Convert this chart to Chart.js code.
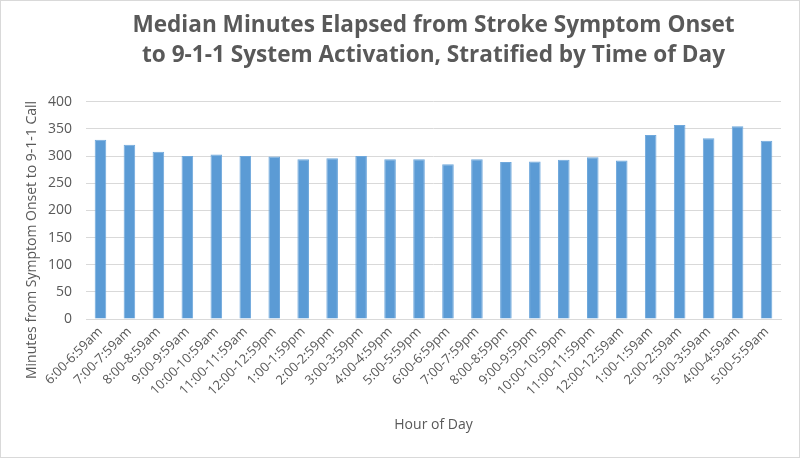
<!DOCTYPE html>
<html>
<head>
<meta charset="utf-8">
<script src="https://cdn.jsdelivr.net/npm/chart.js@4/dist/chart.umd.min.js"></script>
<style>
    body{ margin:0; background:#fff; }
    #wrap{ width:800px; height:458px; box-sizing:border-box; border:1px solid #d9d9d9; }
</style>
</head>
<body>
<div id="wrap"><canvas id="strokeChart" width="798" height="456"></canvas></div>
<script>
// -------- data --------
const hours = [
    "6:00-6:59am", "7:00-7:59am", "8:00-8:59am", "9:00-9:59am", "10:00-10:59am",
    "11:00-11:59am", "12:00-12:59pm", "1:00-1:59pm", "2:00-2:59pm", "3:00-3:59pm",
    "4:00-4:59pm", "5:00-5:59pm", "6:00-6:59pm", "7:00-7:59pm", "8:00-8:59pm",
    "9:00-9:59pm", "10:00-10:59pm", "11:00-11:59pm", "12:00-12:59am", "1:00-1:59am",
    "2:00-2:59am", "3:00-3:59am", "4:00-4:59am", "5:00-5:59am"
];
const medianMinutes = [
    330, 321, 308, 300, 303, 300, 299, 294, 296, 300, 294, 294,
    285, 294, 289, 290, 293, 298, 292, 339, 357, 333, 355, 328
];
const yTicks = [0, 50, 100, 150, 200, 250, 300, 350, 400];

const titleLines = [
    "Median Minutes Elapsed from Stroke Symptom Onset",
    "to 9-1-1 System Activation, Stratified by Time of Day"
];
const yTitle = "Minutes from Symptom Onset to 9-1-1 Call";
const xTitle = "Hour of Day";

const grey = "#595959";
const fontName = "'Open Sans', sans-serif";

// y axis title, centred like the original (over the whole left side)
const yTitlePlugin = {
    id: "yTitle",
    afterDraw(chart){
        const ctx = chart.ctx;
        ctx.save();
        ctx.translate(31, 239);
        ctx.rotate(-Math.PI / 2);
        ctx.font = "14px " + fontName;
        ctx.fillStyle = grey;
        ctx.textAlign = "center";
        ctx.textBaseline = "middle";
        ctx.fillText(yTitle, 0, 0);
        ctx.restore();
    }
};

const ctx = document.getElementById("strokeChart").getContext("2d");

new Chart(ctx, {
    type: "bar",
    data: {
        labels: hours,
        datasets: [{
            label: "Median minutes",
            data: medianMinutes,
            backgroundColor: "#5b9bd5",
            borderColor: "#6fa8dc",
            borderWidth: 1,
            barPercentage: 0.4,
            categoryPercentage: 1.0
        }]
    },
    options: {
        responsive: false,
        animation: false,
        layout: { padding: { top: 0, right: 18, bottom: 0, left: 0 } },
        plugins: {
            legend: { display: false },
            tooltip: { enabled: false },
            title: {
                display: true,
                fullSize: false,
                text: titleLines,
                color: grey,
                font: { family: fontName, size: 22.6, weight: "bold", lineHeight: 1.3 },
                padding: { top: 10, bottom: 32 }
            }
        },
        scales: {
            x: {
                afterFit(scale){
                    scale.height = 138;
                },
                grid: { display: false, drawTicks: false },
                border: { color: "#d9d9d9" },
                ticks: {
                    color: grey,
                    font: { family: fontName, size: 13 },
                    minRotation: 45,
                    maxRotation: 45,
                    autoSkip: false,
                    padding: 5
                },
                title: {
                    display: true,
                    text: xTitle,
                    color: grey,
                    font: { family: fontName, size: 14 },
                    padding: { top: 14, bottom: 24 }
                }
            },
            y: {
                min: 0,
                max: 400,
                afterBuildTicks(scale){
                    scale.ticks = yTicks.map(v => ({ value: v }));
                },
                afterFit(scale){
                    scale.width = 85;
                },
                grid: { color: "#d9d9d9", drawTicks: false },
                border: { display: false },
                ticks: {
                    color: grey,
                    font: { family: fontName, size: 14 },
                    padding: 14
                }
            }
        }
    },
    plugins: [yTitlePlugin]
});
</script>
</body>
</html>
